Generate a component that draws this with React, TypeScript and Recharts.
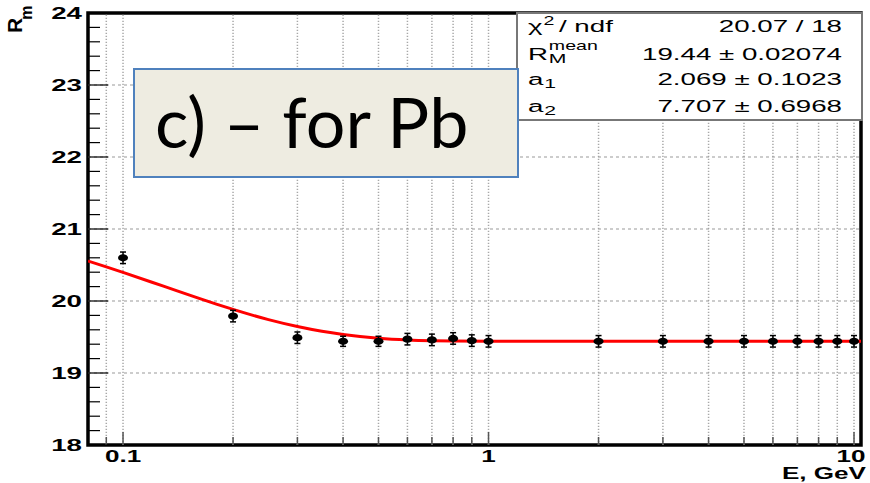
import React from 'react';
import {
  ComposedChart,
  XAxis,
  YAxis,
  Line,
  Scatter,
  ErrorBar,
  ReferenceLine,
  ReferenceArea,
} from 'recharts';

// ---- data ----
const energies = [0.1, 0.2, 0.3, 0.4, 0.5, 0.6, 0.7, 0.8, 0.9, 1, 2, 3, 4, 5, 6, 7, 8, 9, 10];
const rmValues = [20.6, 19.79, 19.49, 19.44, 19.44, 19.47, 19.46, 19.48, 19.45, 19.44, 19.44, 19.44, 19.44, 19.44, 19.44, 19.44, 19.44, 19.44, 19.44];
const rmErrors = [0.08, 0.08, 0.08, 0.07, 0.07, 0.08, 0.08, 0.08, 0.08, 0.08, 0.08, 0.08, 0.08, 0.08, 0.08, 0.08, 0.08, 0.08, 0.08];

const fitEnergies = [0.0802, 0.09, 0.1, 0.12, 0.14, 0.16, 0.18, 0.2, 0.25, 0.3, 0.35, 0.4, 0.5, 0.6, 0.7, 0.8, 1, 2, 5, 10.45];
const fitValues = [20.555, 20.474, 20.397, 20.261, 20.143, 20.043, 19.957, 19.883, 19.741, 19.645, 19.579, 19.535, 19.484, 19.46, 19.449, 19.444, 19.441, 19.44, 19.44, 19.44];

const xDomain = [0.0802, 10.45];
const yDomain = [18, 24];
const xTicks = [0.09, 0.1, 0.2, 0.3, 0.4, 0.5, 0.6, 0.7, 0.8, 0.9, 1, 2, 3, 4, 5, 6, 7, 8, 9, 10];
const xMajor = [0.1, 1, 10];
const xTickLabels = ['0.1', '1', '10'];
const yTicks = [
  18, 18.2, 18.4, 18.6, 18.8, 19, 19.2, 19.4, 19.6, 19.8, 20, 20.2, 20.4, 20.6, 20.8,
  21, 21.2, 21.4, 21.6, 21.8, 22, 22.2, 22.4, 22.6, 22.8, 23, 23.2, 23.4, 23.6, 23.8, 24,
];
const yMajor = [18, 19, 20, 21, 22, 23, 24];
const yGrid = [19, 20, 21, 22, 23];

const statNames = ['χ', 'R', 'a', 'a'];
const statSups = ['2', 'mean', '', ''];
const statSubs = ['', 'M', '1', '2'];
const statTails = ['/ ndf', '', '', ''];
const statValues = ['20.07 / 18', '19.44 ± 0.02074', '2.069 ± 0.1023', '7.707 ± 0.6968'];

const xTitle = 'E, GeV';
const yTitle = 'R';
const yTitleSub = 'm';
const panelNote = 'c) – for Pb';

const points = energies.map((E, i) => ({ E, R: rmValues[i], err: rmErrors[i] }));
const fitData = fitEnergies.map((E, i) => ({ E, R: fitValues[i] }));

// ---- styling ----
const FONT = '"Liberation Sans", Arial, sans-serif';
const SX = 1.63;

const YTick = (props: any) => {
  const { x, y, payload } = props;
  const v = payload.value;
  const major = yMajor.some((m) => Math.abs(m - v) < 1e-6);
  return (
    <g>
      <line x1={x} x2={x + (major ? 20 : 12)} y1={y} y2={y} stroke="#000" strokeWidth={1.2} />
      {major && (
        <g transform={`translate(${x - 6},${y}) scale(${SX},1)`}>
          <text x={0} y={0} dy="0.36em" textAnchor="end" fontFamily={FONT} fontWeight="bold" fontSize={17} fill="#000">
            {String(v)}
          </text>
        </g>
      )}
    </g>
  );
};

const XTick = (props: any) => {
  const { x, y, payload } = props;
  const v = payload.value;
  const idx = xMajor.findIndex((m) => Math.abs(m - v) < 1e-9);
  const major = idx >= 0;
  const shift = v === 10 ? -3 : 0;
  return (
    <g>
      <line x1={x} x2={x} y1={y} y2={y - (major ? 13 : 8)} stroke="#555" strokeWidth={1.5} />
      {major && (
        <g transform={`translate(${x + shift},${y + 16.5}) scale(${SX},1)`}>
          <text x={0} y={0} textAnchor="middle" fontFamily={FONT} fontWeight="bold" fontSize={16} fill="#000">
            {xTickLabels[idx]}
          </text>
        </g>
      )}
    </g>
  );
};

const Dot = (props: any) => {
  const { cx, cy } = props;
  if (cx == null || cy == null) return null;
  return <ellipse cx={cx} cy={cy} rx={5} ry={3.6} fill="#000" />;
};

const baseW: Record<string, number> = { χ: 9, R: 12.3, a: 9.5 };

export default function App() {
  return (
    <div style={{ position: 'absolute', left: 0, top: 0, width: 870, height: 483, background: '#fff' }}>
      <ComposedChart width={870} height={483} margin={{ top: 13, right: 9, bottom: 0, left: 0 }}>
        <XAxis
          dataKey="E"
          type="number"
          scale="log"
          domain={xDomain}
          allowDataOverflow
          ticks={xTicks}
          interval={0}
          tick={XTick}
          tickLine={false}
          axisLine={false}
          tickSize={0}
          tickMargin={0}
          height={38}
        />
        <YAxis
          type="number"
          domain={yDomain}
          allowDataOverflow
          ticks={yTicks}
          interval={0}
          tick={YTick}
          tickLine={false}
          axisLine={false}
          tickSize={0}
          tickMargin={0}
          width={88}
        />
        {xTicks.map((v) => (
          <ReferenceLine key={'vx' + v} x={v} stroke="#a8a8a8" strokeWidth={1.5} strokeDasharray="1.2 1.8" />
        ))}
        {yGrid.map((v) => (
          <ReferenceLine key={'hy' + v} y={v} stroke="#9a9a9a" strokeWidth={1.2} strokeDasharray="3 3" />
        ))}
        <Line
          data={fitData}
          dataKey="R"
          type="monotone"
          stroke="#ff0000"
          strokeWidth={3}
          dot={false}
          isAnimationActive={false}
        />
        <Scatter data={points} dataKey="R" shape={Dot} isAnimationActive={false}>
          <ErrorBar dataKey="err" direction="y" width={3} stroke="#000" strokeWidth={1.5} isAnimationActive={false} />
        </Scatter>
        <ReferenceArea
          x1={xDomain[0]}
          x2={xDomain[1]}
          y1={yDomain[0]}
          y2={yDomain[1]}
          fill="none"
          fillOpacity={0}
          stroke="#000"
          strokeWidth={3.5}
        />
      </ComposedChart>
      <svg
        width={870}
        height={483}
        style={{ position: 'absolute', left: 0, top: 0, pointerEvents: 'none' }}
      >
        {/* y title */}
        <text
          transform="translate(22,33) rotate(-90)"
          fontFamily={FONT}
          fontWeight="bold"
          fontSize={21}
          fill="#000"
        >
          {yTitle}
          <tspan fontSize={16} dx={-2} dy={10}>
            {yTitleSub}
          </tspan>
        </text>
        {/* x title */}
        <g transform={`translate(866,479) scale(${SX},1)`}>
          <text textAnchor="end" fontFamily={FONT} fontWeight="bold" fontSize={16} fill="#000">
            {xTitle}
          </text>
        </g>
        {/* stats box */}
        <rect x={517} y={13} width={345} height={107} fill="#fff" stroke="#777" strokeWidth={2} />
        {statNames.map((name, i) => {
          const baselines = [32, 60, 85, 112];
          const by = baselines[i];
          const w = baseW[name];
          return (
            <g key={'st' + i}>
              <g transform={`translate(528,${by}) scale(${SX},1)`} fontFamily={FONT} fill="#000">
                <text x={0} y={0} fontSize={17}>
                  {name}
                </text>
                {statSups[i] && (
                  <text x={w + 0.5} y={i === 0 ? -7 : -10} fontSize={12}>
                    {statSups[i]}
                  </text>
                )}
                {statSubs[i] && (
                  <text x={w + 0.5} y={3} fontSize={13}>
                    {statSubs[i]}
                  </text>
                )}
                {statTails[i] && (
                  <text x={w + 10} y={0} fontSize={17}>
                    {statTails[i]}
                  </text>
                )}
              </g>
              <g transform={`translate(842,${by}) scale(${SX},1)`}>
                <text x={0} y={0} textAnchor="end" fontFamily={FONT} fontSize={17} fill="#000">
                  {statValues[i]}
                </text>
              </g>
            </g>
          );
        })}
        {/* panel note */}
        <rect x={134} y={69} width={384} height={108} fill="#eeece1" stroke="#4f81bd" strokeWidth={2} />
        <text x={155} y={148} fontFamily="Lato, 'Open Sans', sans-serif" fontSize={70} fill="#000">
          {panelNote}
        </text>
      </svg>
    </div>
  );
}
